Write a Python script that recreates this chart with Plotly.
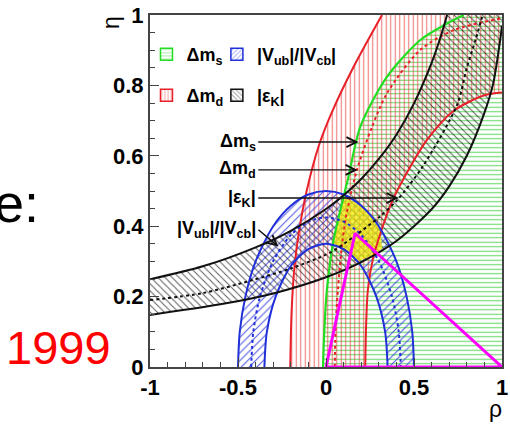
import plotly.graph_objects as go

# ---------------- data ----------------
x_tickvals = [-1, -0.5, 0, 0.5, 1]
x_ticktext = ["-1", "-0.5", "0", "0.5", "1"]
y_tickvals = [0, 0.2, 0.4, 0.6, 0.8, 1.0]
y_ticktext = ["0", "0.2", "0.4", "0.6", "0.8", "1"]

# Delta m_s (green) boundary (allowed region to the right)
dms_rho = [-0.017, -0.010, 0.005, 0.043, 0.100, 0.128, 0.195, 0.347, 0.536, 0.688, 0.783]
dms_eta = [0.000, 0.100, 0.219, 0.361, 0.484, 0.541, 0.683, 0.825, 0.929, 0.976, 1.000]

# Delta m_d (red) band: outer, inner, central
dmd_out_rho = [-0.203, -0.196, -0.180, -0.155, -0.110, -0.040, 0.030, 0.157, 0.318]
dmd_out_eta = [0.000, 0.150, 0.280, 0.380, 0.500, 0.630, 0.720, 0.853, 1.000]
dmd_in_rho = [0.223, 0.228, 0.238, 0.268, 0.316, 0.375, 0.430, 0.574, 0.726, 0.900, 1.000]
dmd_in_eta = [0.000, 0.120, 0.220, 0.310, 0.390, 0.470, 0.525, 0.645, 0.728, 0.772, 0.780]
dmd_mid_rho = [0.050, 0.055, 0.068, 0.085, 0.115, 0.176, 0.260, 0.347, 0.536, 0.726, 0.990]
dmd_mid_eta = [0.000, 0.120, 0.220, 0.320, 0.430, 0.560, 0.680, 0.778, 0.901, 0.957, 0.990]

# |Vub|/|Vcb| (blue) band: outer, inner, central
vub_out_rho = [-0.500, -0.490, -0.458, -0.400, -0.300, -0.200, -0.100, 0.000, 0.100, 0.200, 0.300, 0.400, 0.458, 0.490, 0.500]
vub_out_eta = [0.000, 0.100, 0.200, 0.300, 0.400, 0.458, 0.490, 0.500, 0.490, 0.458, 0.400, 0.300, 0.200, 0.100, 0.000]
vub_in_rho = [-0.350, -0.336, -0.286, -0.200, -0.100, 0.000, 0.100, 0.200, 0.286, 0.336, 0.350]
vub_in_eta = [0.000, 0.100, 0.200, 0.287, 0.335, 0.350, 0.335, 0.287, 0.200, 0.100, 0.000]
vub_mid_rho = [-0.425, -0.413, -0.375, -0.300, -0.200, -0.100, 0.000, 0.100, 0.200, 0.300, 0.375, 0.413, 0.425]
vub_mid_eta = [0.000, 0.100, 0.200, 0.301, 0.375, 0.413, 0.425, 0.413, 0.375, 0.301, 0.200, 0.100, 0.000]

# |eps_K| (black) band: upper, lower, central
epk_up_rho = [-1.000, -0.700, -0.400, -0.200, 0.000, 0.100, 0.200, 0.300, 0.400, 0.500, 0.600, 0.650, 0.688]
epk_up_eta = [0.249, 0.286, 0.340, 0.387, 0.449, 0.488, 0.534, 0.591, 0.660, 0.749, 0.864, 0.936, 1.000]
epk_lo_rho = [-1.000, -0.600, -0.300, 0.000, 0.200, 0.400, 0.600, 0.700, 0.800, 0.900, 0.950, 0.990, 1.000]
epk_lo_eta = [0.148, 0.178, 0.209, 0.255, 0.298, 0.358, 0.448, 0.513, 0.600, 0.722, 0.805, 0.930, 0.970]
epk_mid_rho = [-1.000, -0.700, -0.431, -0.200, 0.024, 0.157, 0.300, 0.404, 0.550, 0.745, 0.800, 0.850, 0.890]
epk_mid_eta = [0.190, 0.210, 0.245, 0.280, 0.325, 0.370, 0.425, 0.474, 0.570, 0.745, 0.850, 0.930, 1.000]

# combined allowed region (yellow)
yel_rho = [0.096, 0.150, 0.214, 0.280, 0.310, 0.320, 0.250, 0.175, 0.100, 0.043, 0.060, 0.080, 0.096]
yel_eta = [0.481, 0.472, 0.455, 0.420, 0.380, 0.335, 0.313, 0.300, 0.335, 0.350, 0.400, 0.440, 0.481]

# unitarity triangle
tri_rho = [0.0, 1.0, 0.165, 0.0]
tri_eta = [0.0, 0.0, 0.380, 0.0]

# annotation arrows (tip and tail positions in rho/eta)
arrow_labels = ["Δm<sub>s</sub>", "Δm<sub>d</sub>", "|ε<sub>K</sub>|", "|V<sub>ub</sub>|/|V<sub>cb</sub>|"]
arrow_tip_rho = [0.185, 0.180, 0.413, -0.270]
arrow_tip_eta = [0.639, 0.560, 0.480, 0.342]
arrow_tail_rho = [-0.385, -0.385, -0.385, -0.384]
arrow_tail_eta = [0.639, 0.560, 0.480, 0.390]

# legend entries
leg_names = ["Δm<sub>s</sub>", "|V<sub>ub</sub>|/|V<sub>cb</sub>|", "Δm<sub>d</sub>", "|ε<sub>K</sub>|"]
leg_shapes = ["-", "/", "|", "\\"]

# ---------------- colours ----------------
RED = "#e8202a"
GREEN = "#22dd22"
BLUE = "#2030d8"
BLACK = "#111111"
MAGENTA = "#ff00ff"
FONT = "Liberation Sans, Arial"

fig = go.Figure()

def band(x, y, shape, fg, size=4.5, sol=0.25):
    fig.add_trace(go.Scatter(
        x=x, y=y, mode="lines", fill="toself", line=dict(width=0),
        fillcolor="rgba(0,0,0,0)",
        fillpattern=dict(shape=shape, fgcolor=fg, bgcolor="rgba(0,0,0,0)",
                         size=size, solidity=sol, fillmode="replace"),
        showlegend=False, hoverinfo="skip"))

def curve(x, y, color, dash="solid", width=2.0):
    fig.add_trace(go.Scatter(
        x=x, y=y, mode="lines", line=dict(color=color, width=width, dash=dash,
                                          shape="spline", smoothing=0.8),
        showlegend=False, hoverinfo="skip"))

# hatched bands
band(dms_rho + [1.0, 1.0], dms_eta + [1.0, 0.0], "-", "rgba(40,200,40,0.7)")
band(dmd_out_rho + [1.0] + dmd_in_rho[::-1], dmd_out_eta + [1.0] + dmd_in_eta[::-1],
     "|", "rgba(230,50,50,0.65)")
band(vub_out_rho + vub_in_rho[::-1], vub_out_eta + vub_in_eta[::-1],
     "/", "rgba(40,50,220,0.8)", size=5.5, sol=0.2)
band(epk_up_rho + [1.0] + epk_lo_rho[::-1], epk_up_eta + [1.0] + epk_lo_eta[::-1],
     "\\", "rgba(20,20,20,0.7)", size=5.0, sol=0.2)

# yellow combined region (semi-transparent over hatches)
fig.add_trace(go.Scatter(x=yel_rho, y=yel_eta, mode="lines", fill="toself",
                         fillcolor="rgba(245,235,0,0.72)", line=dict(width=0),
                         showlegend=False, hoverinfo="skip"))

# boundary curves
curve(dmd_out_rho, dmd_out_eta, RED)
curve(dmd_in_rho, dmd_in_eta, RED)
curve(dmd_mid_rho, dmd_mid_eta, RED, dash="3px,3px")
curve(dms_rho, dms_eta, GREEN, width=2.2)
curve(vub_out_rho, vub_out_eta, BLUE)
curve(vub_in_rho, vub_in_eta, BLUE)
curve(vub_mid_rho, vub_mid_eta, BLUE, dash="3px,3px")
curve(epk_up_rho, epk_up_eta, BLACK)
curve(epk_lo_rho, epk_lo_eta, BLACK)
curve(epk_mid_rho, epk_mid_eta, BLACK, dash="3px,3px")

# unitarity triangle
fig.add_trace(go.Scatter(x=tri_rho, y=tri_eta, mode="lines",
                         line=dict(color=MAGENTA, width=3),
                         showlegend=False, hoverinfo="skip"))

# legend entries: one legend per entry, laid out 2 x 2
leg_colors = [GREEN, BLUE, RED, BLACK]
leg_fg = ["rgba(40,200,40,0.8)", "rgba(40,50,220,0.8)", "rgba(230,50,50,0.8)", "rgba(20,20,20,0.8)"]
leg_ids = ["legend", "legend2", "legend3", "legend4"]
for nm, c, fg, sh, lg in zip(leg_names, leg_colors, leg_fg, leg_shapes, leg_ids):
    fig.add_trace(go.Bar(x=[None], y=[None], name=nm, legend=lg,
                         marker=dict(color="white", line=dict(color=c, width=1.5),
                                     pattern=dict(shape=sh, fgcolor=fg, bgcolor="white",
                                                  size=4, solidity=0.3))))

# arrows with labels
for lab, tx, ty, ax, ay in zip(arrow_labels, arrow_tip_rho, arrow_tip_eta,
                               arrow_tail_rho, arrow_tail_eta):
    fig.add_annotation(x=tx, y=ty, ax=ax, ay=ay, xref="x", yref="y", axref="x", ayref="y",
                       text="<b>" + lab + "</b>", showarrow=True, arrowhead=5,
                       arrowsize=1.4, arrowwidth=1.4, arrowcolor="#111",
                       xanchor="right", yanchor="middle",
                       font=dict(size=18, color="black", family=FONT))

# axis titles and side texts
fig.add_annotation(text="η", x=-0.111, y=0.98, xref="paper", yref="paper", showarrow=False,
                   xanchor="center", yanchor="middle", textangle=-90,
                   font=dict(size=23, color="black", family=FONT))
fig.add_annotation(text="ρ", x=0.981, y=-0.12, xref="paper", yref="paper", showarrow=False,
                   xanchor="center", yanchor="middle",
                   font=dict(size=23, color="black", family=FONT))
fig.add_annotation(text="e:", x=-0.31, y=0.466, xref="paper", yref="paper", showarrow=False,
                   xanchor="right", yanchor="middle",
                   font=dict(size=54, color="black", family=FONT))
fig.add_annotation(text="1999", x=-0.259, y=0.054, xref="paper", yref="paper", showarrow=False,
                   xanchor="center", yanchor="middle",
                   font=dict(size=47, color="#ff0000", family=FONT))

tickfont = dict(size=22, color="black", family=FONT, weight="bold")
legfont = dict(size=18, color="black", family=FONT, weight="bold")

def leg(x, y):
    return dict(x=x, y=y, xanchor="left", yanchor="top", orientation="h",
                bgcolor="rgba(0,0,0,0)", font=legfont)

fig.update_layout(
    width=510, height=427,
    margin=dict(l=150, r=8, t=15, b=60),
    paper_bgcolor="white", plot_bgcolor="white",
    xaxis=dict(range=[-1, 1], tickvals=x_tickvals, ticktext=x_ticktext, automargin=False,
               showgrid=False, zeroline=False, showline=True, linecolor="#444",
               linewidth=2, mirror=True, ticks="inside", ticklen=9, tickcolor="#444",
               tickwidth=1, tickfont=tickfont,
               minor=dict(dtick=0.1, ticks="inside", ticklen=5, tickcolor="#444", showgrid=False)),
    yaxis=dict(range=[0, 1], tickvals=y_tickvals, ticktext=y_ticktext, automargin=False,
               showgrid=False, zeroline=False, showline=True, linecolor="#444",
               linewidth=2, mirror=True, ticks="inside", ticklen=9, tickcolor="#444",
               tickwidth=1, tickfont=tickfont,
               minor=dict(dtick=0.05, ticks="inside", ticklen=5, tickcolor="#444", showgrid=False)),
    legend=leg(-0.01, 0.94),
    legend2=leg(0.19, 0.94),
    legend3=leg(-0.01, 0.824),
    legend4=leg(0.19, 0.824),
    showlegend=True,
)

fig.write_html("out.html")
